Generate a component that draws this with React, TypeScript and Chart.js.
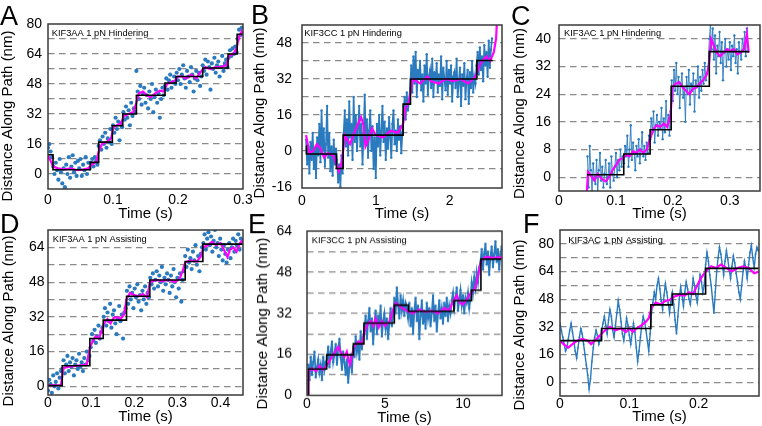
import React, { useEffect, useRef } from 'react';
import { Chart, registerables } from 'chart.js';
Chart.register(...registerables);

// ---------------- DATA ----------------
// Panel A: KIF3AA 1 pN Hindering
const A_STEP_T = [0, 0.0077, 0.065, 0.078, 0.099, 0.115, 0.136, 0.18, 0.197, 0.238, 0.277, 0.291, 0.3];
const A_STEP_Y = [10.3, 2.3, 6.2, 17, 25.7, 32, 42, 48.5, 52, 56.5, 64, 74.5, 74.5];
const A_FIT_T = [0, 0.004, 0.008, 0.015, 0.025, 0.035, 0.045, 0.055, 0.062, 0.068, 0.074, 0.078, 0.083, 0.09, 0.097, 0.101, 0.106, 0.112, 0.117, 0.124, 0.131, 0.136, 0.14, 0.146, 0.152, 0.158, 0.165, 0.172, 0.178, 0.183, 0.19, 0.196, 0.2, 0.206, 0.213, 0.22, 0.228, 0.236, 0.242, 0.25, 0.258, 0.266, 0.274, 0.279, 0.285, 0.29, 0.294, 0.298, 0.3];
const A_FIT_Y = [10, 7, 4, 3, 2.5, 3, 2, 2.5, 3, 5, 6.5, 12, 16, 17, 19, 25, 26, 27, 31, 32, 33, 38, 43, 44, 42, 41, 43, 44.5, 44, 48, 49, 50, 52, 52, 51, 53, 51, 55, 57, 56, 57, 57, 58, 63, 64, 67, 73, 76, 74];
const A_RAW_T0 = 0;
const A_RAW_DT = 0.002;
const A_RAW_Y = [14, 16, 12, 9,
  4, 0, 6, 2, -3, 8, 1, -5, 3, -7, 5, 0, 9, -2, 4, 10, 1, 6, -1, 7, 3, 8, -1, 5, 2, 9, 0, 6, 3,
  6, 8, 4, 9, 7, 5,
  15, 18, 13, 20, 16, 22, 14, 19, 17, 24, 16,
  26, 22, 30, 24, 28, 18, 27, 25,
  33, 29, 36, 30, 34, 26, 38, 31, 35, 33,
  55, 44, 40, 47, 37, 43, 46, 38, 42, 35, 44, 40, 48, 33, 41, 45, 38, 43, 30, 40, 46, 42,
  47, 51, 45, 50, 53, 46, 49, 52, 48,
  54, 50, 56, 48, 53, 58, 51, 46, 55, 52, 49, 57, 53, 44, 51, 55, 50, 54, 47, 52,
  58, 55, 61, 53, 60, 57, 45, 59, 56, 62, 54, 58, 60, 52, 57, 63, 55, 59, 61, 57,
  62, 66, 63, 67, 64, 68, 65,
  72, 77, 74, 78];
const A_X_TICKS = [0, 0.1, 0.2, 0.3];
const A_Y_LABELS = [0, 16, 32, 48, 64, 80];
const A_Y_GRID = [0, 8, 16, 24, 32, 40, 48, 56, 64, 72];

// Panel B: KIF3CC 1 pN Hindering
const B_STEP_T = [0.059, 0.06, 0.466, 0.557, 1.37, 1.47, 2.37, 2.585];
const B_STEP_Y = [2.3, -1.4, -7.8, 7.0, 20.8, 32, 40.2, 40.2];
const B_FIT_T = [0.055, 0.1, 0.15, 0.2, 0.25, 0.3, 0.35, 0.42, 0.47, 0.5, 0.54, 0.58, 0.65, 0.72, 0.8, 0.83, 0.86, 0.9, 0.95, 1.0, 1.1, 1.2, 1.3, 1.37, 1.4, 1.45, 1.5, 1.6, 1.7, 1.75, 1.85, 1.95, 2.05, 2.15, 2.25, 2.35, 2.42, 2.5, 2.55, 2.6, 2.63, 2.645];
const B_FIT_Y = [7, -1, 0, 3, 1, -3, -1, -2, -6, -9, -5, 7, 3, 9, 15, 12, 2, 5, 10, 7, 6, 9, 8, 12, 19, 22, 32, 30, 33, 31, 30, 32, 31, 32, 30, 33, 39, 42, 40, 44, 50, 60];
const B_RAW_T0 = 0.055;
const B_RAW_DT = 0.015;
const B_RAW_Y = [5, -6, 2, -10, 4, -4, 8, -8, 1, -12, 6, -2, 12, -5, 18, 0, 10, -7, 3, 20, -3, 8, -9, 2, -11, 5, -6, 1,
  -4, -14, -6, -16, -2, -10,
  8, 18, 2, 14, -2, 22, 6, 12, -4, 24, 4, 16, 0, 10, 20, 2, 12, -6, 8, 25, 4, 14, -3, 9, 18, 0, 11, -8, 6, -12,
  12, 2, 16, -2, 9, 20, 4, 13, -4, 10, 1, 15, 6, -3, 12, 18, 3, 9, 0, 14, 5, 11, -1, 8,
  16, 24, 14, 26, 18, 22, 28,
  38, 26, 42, 30, 44, 24, 36, 32, 40, 27, 34, 22, 38, 30, 43, 25, 33, 36, 28, 41,
  24, 35, 31, 39, 26, 34, 29, 42, 23, 37, 32, 27, 40, 25, 36, 30, 38, 22, 33, 35,
  28, 41, 24, 31, 37, 20, 34, 29, 39, 23, 32, 36, 21, 35, 28, 40, 26, 33, 30, 38,
  44, 34, 46, 36, 42, 31, 47, 38, 44, 33, 49, 37, 45, 50];
const B_X_TICKS = [0, 1, 2];
const B_Y_LABELS = [-16, 0, 16, 32, 48];
const B_Y_GRID = [-8, 0, 8, 16, 24, 32, 40, 48];

// Panel C: KIF3AC 1 pN Hindering
const C_STEP_T = [0.049, 0.1137, 0.16, 0.197, 0.264, 0.334];
const C_STEP_Y = [0.7, 6.7, 13.7, 26.3, 36.3, 36.3];
const C_FIT_T = [0.049, 0.051, 0.056, 0.062, 0.068, 0.075, 0.082, 0.088, 0.094, 0.1, 0.106, 0.112, 0.118, 0.124, 0.13, 0.136, 0.142, 0.148, 0.154, 0.16, 0.166, 0.172, 0.178, 0.184, 0.19, 0.196, 0.199, 0.205, 0.211, 0.217, 0.223, 0.229, 0.235, 0.241, 0.247, 0.253, 0.259, 0.263, 0.267, 0.271, 0.277, 0.283, 0.289, 0.295, 0.301, 0.307, 0.313, 0.319, 0.325, 0.33, 0.333];
const C_FIT_Y = [-4, 1.5, 0.5, -1, 1, -0.5, -1.2, 0, 2, 3.5, 5, 5.5, 6.5, 6, 7.5, 7, 8, 7, 8, 11, 14, 15, 14.5, 15.5, 14.5, 18, 26, 27, 27.5, 26, 25, 24, 25.5, 26, 27, 28, 29.5, 32, 40, 38.5, 36, 35, 36, 37, 36.5, 37, 35.5, 36, 37, 41.5, 36];
const C_RAW_T0 = 0.05;
const C_RAW_DT = 0.002;
const C_RAW_Y = [6, -3, 9, 2, -4, 4, 0, -2, 5, -4, 2, 7, -1, 3, -3, 1, 5, -2, 0, 4, -3, 6, 1, -1, 3, 7, 0, 5, 2, 8, 3, 6,
  4, 9, 6, 12, 3, 8, 15, 5, 10, 7, 2, 9, 6, 11, 4, 8, 13, 6, 9, 5, 10, 7, 12,
  11, 17, 13, 19, 10, 15, 18, 12, 16, 14, 20, 11, 17, 13, 22, 15, 18, 12, 19,
  28, 22, 31, 25, 33, 24, 29, 20, 27, 30, 23, 26, 16, 29, 24, 31, 21, 27, 25, 30, 19, 28, 26, 32, 23, 29, 25, 31, 27, 33, 28, 30, 32,
  40, 44, 37, 43, 34, 41, 30, 38, 35, 42, 33, 39, 28, 36, 40, 32, 37, 34, 39, 31, 38, 35, 41, 33, 37, 30, 39, 36, 34, 40, 37, 42, 35, 43, 38];
const C_X_TICKS = [0, 0.1, 0.2, 0.3];
const C_Y_LABELS = [0, 8, 16, 24, 32, 40];
const C_Y_GRID = [0, 8, 16, 24, 32, 40];

// Panel D: KIF3AA 1 pN Assisting
const D_STEP_T = [0, 0.033, 0.097, 0.128, 0.182, 0.236, 0.318, 0.359, 0.452];
const D_STEP_Y = [0.3, 9.5, 22, 30.5, 41.5, 49, 57.5, 65.5, 65.5];
const D_FIT_T = [0, 0.03, 0.036, 0.05, 0.07, 0.09, 0.097, 0.102, 0.11, 0.118, 0.125, 0.13, 0.138, 0.145, 0.152, 0.16, 0.168, 0.176, 0.182, 0.19, 0.2, 0.21, 0.22, 0.23, 0.236, 0.25, 0.265, 0.28, 0.295, 0.305, 0.312, 0.318, 0.33, 0.345, 0.355, 0.36, 0.37, 0.38, 0.39, 0.4, 0.41, 0.416, 0.422, 0.43, 0.437, 0.445, 0.452];
const D_FIT_Y = [0.5, 0.5, 8.5, 9, 9.5, 10, 18, 20, 23, 22, 26, 29, 31, 29, 31.5, 32, 31, 33, 40, 43, 42, 41.5, 42.5, 41, 48, 49, 48.5, 49, 48, 49.5, 53, 57, 58, 57.5, 60, 64, 65, 66.5, 65, 66, 62, 59.5, 63, 64, 62, 66, 67.5];
const D_RAW_T0 = 0;
const D_RAW_DT = 0.003;
const D_RAW_Y = [-2, 3, 1, -3, 5, 0, 2, 6, -1, 4, 7,
  8, 12, 6, 10, 14, 7, 11, 9, 13, 5, 10, 12, 8, 15, 9, 11, 7, 13, 10, 16, 12, 14,
  18, 24, 21, 26, 20, 23, 28, 22, 25, 27,
  32, 36, 28, 34, 30, 38, 27, 33, 35, 29, 24, 31, 37, 30, 33, 22, 34, 36,
  44, 38, 46, 40, 43, 36, 45, 41, 47, 39, 42, 35, 44, 40, 46, 38, 43, 41,
  50, 47, 52, 45, 49, 53, 46, 51, 48, 55, 44, 50, 47, 52, 49, 43, 51, 46, 54, 48, 41, 50, 45, 52, 39, 49, 53,
  60, 55, 63, 57, 59, 54, 62, 58, 65, 56, 60, 53, 61, 64,
  66, 70, 63, 68, 71, 65, 69, 62, 67, 72, 64, 66, 60, 68, 63, 58, 65, 61, 57, 63, 66, 59, 64, 68, 62, 67, 65, 70, 63, 68, 66];
const D_X_TICKS = [0, 0.1, 0.2, 0.3, 0.4];
const D_Y_LABELS = [0, 16, 32, 48, 64];
const D_Y_GRID = [0, 8, 16, 24, 32, 40, 48, 56, 64];

// Panel E: KIF3CC 1 pN Assisting
const E_STEP_T = [0.08, 0.09, 1.26, 2.97, 3.65, 5.6, 6.5, 9.42, 10.55, 11.15, 12.48];
const E_STEP_Y = [0, 10.3, 15.8, 20.1, 28.2, 35.2, 32.8, 36.9, 41, 53.1, 53.1];
const E_FIT_T = [0.08, 0.1, 0.3, 0.6, 0.8, 1.0, 1.2, 1.5, 1.8, 2.0, 2.2, 2.4, 2.55, 2.65, 2.75, 2.9, 3.0, 3.3, 3.5, 3.7, 3.9, 4.1, 4.25, 4.4, 4.6, 4.8, 5.0, 5.3, 5.5, 5.7, 5.9, 6.1, 6.4, 6.8, 7.2, 7.6, 8.0, 8.4, 8.8, 9.1, 9.4, 9.6, 9.8, 10.0, 10.2, 10.5, 10.8, 11.0, 11.2, 11.5, 12.0, 12.48];
const E_FIT_Y = [0, 9, 10.5, 9.5, 11.5, 10, 11, 14, 17, 19, 16.5, 15, 17, 14, 12, 16, 19, 21, 20, 25, 28, 29, 27, 30, 26.5, 29, 27, 29, 33, 36, 35, 34, 33, 32, 33.5, 32.5, 33, 32, 34, 33, 37, 39, 36, 35.5, 37, 40, 42, 48, 53, 54, 53.5, 54];
const E_RAW_T0 = 0.08;
const E_RAW_DT = 0.08;
const E_RAW_Y = [12, 6, 15, 8, 13, 17, 7, 11, 14, 9, 12, 6, 15, 10, 13,
  14, 19, 11, 17, 21, 13, 16, 20, 12, 18, 22, 15, 10, 17, 13, 8, 14, 5, 11, 16, 9,
  19, 15, 23, 17, 21, 14, 25, 18, 22,
  26, 31, 22, 29, 34, 25, 30, 20, 28, 33, 24, 31, 27, 35, 23, 29, 32, 26, 30, 22, 28, 34, 27, 31,
  38, 32, 42, 35, 30, 39, 33, 37, 31, 36, 34,
  30, 36, 27, 34, 24, 33, 38, 29, 35, 22, 31, 37, 28, 33, 26, 36, 30, 34, 27, 32, 39, 29, 35, 25, 32, 37, 30, 34, 28, 36, 31, 38, 29, 35, 32, 37,
  40, 34, 38, 42, 33, 37, 41, 35, 39, 32, 38, 36, 40, 34,
  38, 44, 40, 46, 42, 48, 44, 50,
  52, 57, 49, 55, 59, 51, 56, 47, 54, 58, 50, 55, 60, 52, 57, 49, 55, 58];
const E_X_TICKS = [0, 5, 10];
const E_Y_LABELS = [0, 16, 32, 48, 64];
const E_Y_GRID = [8, 16, 24, 32, 40, 48, 56];

// Panel F: KIF3AC 1 pN Assisting
const F_STEP_T = [0, 0.06, 0.131, 0.162, 0.21, 0.287];
const F_STEP_Y = [24, 31, 44.7, 51, 65.8, 65.8];
const F_FIT_T = [0, 0.005, 0.012, 0.018, 0.025, 0.032, 0.04, 0.045, 0.05, 0.055, 0.06, 0.065, 0.072, 0.08, 0.088, 0.095, 0.1, 0.105, 0.11, 0.118, 0.124, 0.128, 0.132, 0.138, 0.145, 0.152, 0.158, 0.165, 0.172, 0.18, 0.186, 0.192, 0.198, 0.203, 0.21, 0.218, 0.225, 0.232, 0.24, 0.248, 0.256, 0.264, 0.272, 0.28, 0.287];
const F_FIT_Y = [24, 22, 20, 22, 24, 25, 24, 22, 24, 26, 28, 30, 32, 30, 31, 29, 31, 29, 31, 33, 35, 37, 43, 46, 45, 47, 47.5, 49.5, 50.5, 50, 52, 51, 56, 60, 64, 67, 66, 68, 66, 64, 66, 67, 66, 63, 64];
const F_RAW_T0 = 0;
const F_RAW_DT = 0.002;
const F_RAW_Y = [34, 30, 26, 22, 18, 20, 25, 30, 34, 29, 24, 18, 14, 20, 26, 31, 28, 22, 16, 10, 4, -4, 2, 12, 20, 26, 30, 27, 22, 25,
  30, 34, 38, 33, 28, 36, 42, 38, 30, 26, 33, 40, 47, 42, 35, 28, 24, 30, 37, 33, 27, 22, 28, 34, 29, 20, 12, 18, 26, 33, 38, 35, 30, 24, 18, 28,
  40, 46, 52, 48, 56, 60, 54, 47, 42, 50, 57, 52, 46, 40, 48,
  52, 45, 36, 28, 38, 48, 55, 50, 44, 52, 58, 54, 48, 45, 52, 60, 56, 50, 46, 54, 62, 58, 52, 56,
  68, 75, 70, 62, 56, 48, 40, 52, 64, 72, 78, 74, 68, 62, 70, 76, 71, 65, 60, 67, 73, 69, 63, 58, 52, 48, 56, 64, 70, 66, 60, 68, 75, 79, 72, 66, 74, 78, 76];
const F_X_TICKS = [0, 0.1, 0.2];
const F_Y_LABELS = [0, 16, 32, 48, 64, 80];
const F_Y_GRID = [0, 8, 16, 24, 32, 40, 48, 56, 64, 72, 80];

// ---------------- LAYOUT / STYLE ----------------
const FONT = '"Liberation Sans", Arial, Helvetica, sans-serif';
const BLUE = '#2a7abf';
const MAGENTA = '#ff00ff';
const YW = 64, PT = 26, PR = 14;

type Panel = {
  letter: string; label: string; rect: number[];
  xMin: number; xMax: number; yMin: number; yMax: number;
  xTicks: number[]; yLabels: number[]; yGrid: number[];
  stepT: number[]; stepY: number[]; fitT: number[]; fitY: number[];
  rawT0: number; rawDt: number; rawY: number[];
  rawLine: number; rawR: number;
  yPad: number; xPad: number; xTitleOff: number;
  titleX: number; titleY: number; letterX: number; letterY: number; noteDx: number; noteDy: number;
};

const PANELS: Panel[] = [
  { letter: 'A', label: 'KIF3AA 1 pN Hindering', rect: [48, 24, 243, 189], xMin: 0, xMax: 0.3, yMin: -8, yMax: 80,
    xTicks: A_X_TICKS, yLabels: A_Y_LABELS, yGrid: A_Y_GRID, stepT: A_STEP_T, stepY: A_STEP_Y, fitT: A_FIT_T, fitY: A_FIT_Y,
    rawT0: A_RAW_T0, rawDt: A_RAW_DT, rawY: A_RAW_Y, rawLine: 0, rawR: 2.1,
    yPad: 6, xPad: 2.6, xTitleOff: 25, titleX: 12, titleY: 116, letterX: 0, letterY: 25, noteDx: 3.7, noteDy: 9 },
  { letter: 'B', label: 'KIF3CC 1 pN Hindering', rect: [302, 25, 502, 188], xMin: 0, xMax: 2.71, yMin: -16.5, yMax: 56,
    xTicks: B_X_TICKS, yLabels: B_Y_LABELS, yGrid: B_Y_GRID, stepT: B_STEP_T, stepY: B_STEP_Y, fitT: B_FIT_T, fitY: B_FIT_Y,
    rawT0: B_RAW_T0, rawDt: B_RAW_DT, rawY: B_RAW_Y, rawLine: 1.7, rawR: 1.2,
    yPad: 10, xPad: 4.6, xTitleOff: 26, titleX: 264, titleY: 113, letterX: 251, letterY: 24, noteDx: 2.3, noteDy: 8.3 },
  { letter: 'C', label: 'KIF3AC 1 pN Hindering', rect: [559, 25, 760, 191], xMin: 0, xMax: 0.353, yMin: -4, yMax: 44,
    xTicks: C_X_TICKS, yLabels: C_Y_LABELS, yGrid: C_Y_GRID, stepT: C_STEP_T, stepY: C_STEP_Y, fitT: C_FIT_T, fitY: C_FIT_Y,
    rawT0: C_RAW_T0, rawDt: C_RAW_DT, rawY: C_RAW_Y, rawLine: 0.9, rawR: 1.2,
    yPad: 8, xPad: 1.6, xTitleOff: 23, titleX: 524, titleY: 113.5, letterX: 511, letterY: 25, noteDx: 5, noteDy: 8.3 },
  { letter: 'D', label: 'KIF3AA 1 pN Assisting', rect: [48, 230, 243, 395], xMin: 0, xMax: 0.452, yMin: -4, yMax: 72,
    xTicks: D_X_TICKS, yLabels: D_Y_LABELS, yGrid: D_Y_GRID, stepT: D_STEP_T, stepY: D_STEP_Y, fitT: D_FIT_T, fitY: D_FIT_Y,
    rawT0: D_RAW_T0, rawDt: D_RAW_DT, rawY: D_RAW_Y, rawLine: 0, rawR: 2.1,
    yPad: 3.5, xPad: 0, xTitleOff: 22, titleX: 12.5, titleY: 321, letterX: 0, letterY: 233, noteDx: 4.7, noteDy: 9.3 },
  { letter: 'E', label: 'KIF3CC 1 pN Assisting', rect: [307, 231, 502, 395], xMin: 0, xMax: 12.5, yMin: 0, yMax: 64,
    xTicks: E_X_TICKS, yLabels: E_Y_LABELS, yGrid: E_Y_GRID, stepT: E_STEP_T, stepY: E_STEP_Y, fitT: E_FIT_T, fitY: E_FIT_Y,
    rawT0: E_RAW_T0, rawDt: E_RAW_DT, rawY: E_RAW_Y, rawLine: 1.8, rawR: 1.2,
    yPad: 15, xPad: 0, xTitleOff: 22.5, titleX: 267, titleY: 323, letterX: 248, letterY: 233, noteDx: 4.7, noteDy: 9 },
  { letter: 'F', label: 'KIF3AC 1 pN Assisting', rect: [560, 230, 759, 396], xMin: 0, xMax: 0.287, yMin: -8, yMax: 88,
    xTicks: F_X_TICKS, yLabels: F_Y_LABELS, yGrid: F_Y_GRID, stepT: F_STEP_T, stepY: F_STEP_Y, fitT: F_FIT_T, fitY: F_FIT_Y,
    rawT0: F_RAW_T0, rawDt: F_RAW_DT, rawY: F_RAW_Y, rawLine: 1.4, rawR: 0.9,
    yPad: 6, xPad: 0, xTitleOff: 21, titleX: 524, titleY: 325, letterX: 523, letterY: 233, noteDx: 8.3, noteDy: 10.7 },
];

const zip = (t: number[], y: number[]) => t.map((x, i) => ({ x, y: y[i] }));

function PanelChart({ p }: { p: Panel }) {
  const ref = useRef<HTMLCanvasElement>(null);
  const [L, T, R, B] = p.rect;
  const XH = p.xTitleOff + 9;
  const cl = L - YW;
  const ct = T - PT;
  const w = YW + (R - L) + PR;
  const h = PT + (B - T) + XH;

  useEffect(() => {
    const yTicks = Array.from(new Set([...p.yLabels, ...p.yGrid])).sort((a, b) => a - b);
    const decor = {
      id: 'decor',
      afterDatasetsDraw(chart: any) {
        const { ctx, chartArea: a } = chart;
        ctx.save();
        ctx.strokeStyle = '#3a3a3a';
        ctx.lineWidth = 1.5;
        ctx.strokeRect(a.left, a.top, a.right - a.left, a.bottom - a.top);
        ctx.restore();
      },
      afterDraw(chart: any) {
        const { ctx, chartArea: a } = chart;
        ctx.save();
        ctx.fillStyle = '#000';
        ctx.font = `9.3px ${FONT}`;
        ctx.textAlign = 'left';
        ctx.textBaseline = 'middle';
        ctx.fillText(p.label, a.left + p.noteDx, a.top + p.noteDy);
        ctx.font = `27px ${FONT}`;
        ctx.textBaseline = 'alphabetic';
        ctx.fillText(p.letter, p.letterX - cl, p.letterY - ct);
        ctx.font = `15px ${FONT}`;
        ctx.translate(p.titleX - cl, p.titleY - ct);
        ctx.rotate(-Math.PI / 2);
        ctx.textAlign = 'center';
        ctx.fillText('Distance Along Path (nm)', 0, 0);
        ctx.restore();
      },
    };

    const chart = new Chart(ref.current as HTMLCanvasElement, {
      type: 'line',
      data: {
        datasets: [
          { data: zip(p.stepT, p.stepY), borderColor: '#000', borderWidth: 1.6, stepped: true, pointRadius: 0, clip: 0 } as any,
          { data: zip(p.fitT, p.fitY), borderColor: MAGENTA, borderWidth: 2.2, pointRadius: 0, tension: 0, clip: 0 } as any,
          {
            data: p.rawY.map((y, i) => ({ x: p.rawT0 + i * p.rawDt, y })),
            borderColor: BLUE, backgroundColor: BLUE, borderWidth: p.rawLine, showLine: p.rawLine > 0,
            pointRadius: p.rawR, pointBorderWidth: 0, pointBackgroundColor: BLUE, clip: 0,
          } as any,
        ],
      },
      options: {
        animation: false,
        responsive: false,
        events: [],
        layout: { padding: { left: 0, top: PT, right: PR, bottom: 0 } },
        plugins: { legend: { display: false }, tooltip: { enabled: false } },
        scales: {
          x: {
            type: 'linear', min: p.xMin, max: p.xMax,
            afterBuildTicks: (s: any) => { s.ticks = p.xTicks.map((v) => ({ value: v })); },
            afterFit: (s: any) => { s.height = XH; },
            grid: { display: false, drawTicks: false },
            border: { display: false },
            ticks: { autoSkip: false, maxRotation: 0, minRotation: 0, padding: p.xPad, color: '#000', font: { family: FONT, size: 14 } },
            title: { display: true, text: 'Time (s)', color: '#000', font: { family: FONT, size: 15 }, padding: 0 },
          },
          y: {
            type: 'linear', min: p.yMin, max: p.yMax,
            afterBuildTicks: (s: any) => { s.ticks = yTicks.map((v) => ({ value: v })); },
            afterFit: (s: any) => { s.width = YW; },
            grid: {
              drawTicks: false, lineWidth: 1.2,
              color: (c: any) => (c.tick && p.yGrid.includes(c.tick.value) ? '#8a8a8a' : 'rgba(0,0,0,0)'),
            },
            border: { display: false, dash: [6.5, 4.5] },
            ticks: {
              autoSkip: false, padding: p.yPad, color: '#000', font: { family: FONT, size: 14 },
              callback: (v: any) => (p.yLabels.includes(v) ? String(v) : ''),
            },
          },
        },
      } as any,
      plugins: [decor],
    });
    return () => chart.destroy();
  }, []);

  return (
    <canvas
      ref={ref}
      width={w}
      height={h}
      style={{ position: 'absolute', left: cl, top: ct, width: w, height: h }}
    />
  );
}

export default function App() {
  return (
    <div style={{ position: 'fixed', left: 0, top: 0, width: 762, height: 426, overflow: 'hidden', background: '#fff' }}>
      {PANELS.map((p) => (
        <PanelChart key={p.letter} p={p} />
      ))}
    </div>
  );
}
